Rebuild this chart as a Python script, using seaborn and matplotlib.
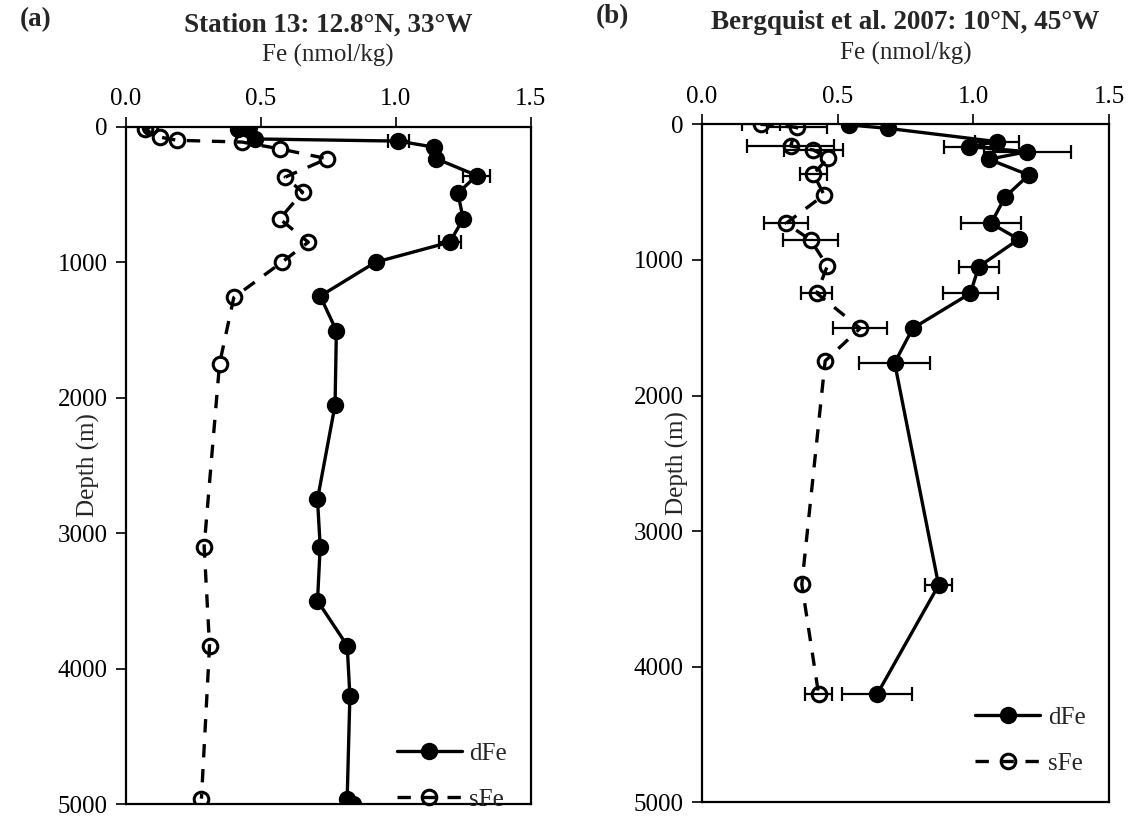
import numpy as np
import pandas as pd
import matplotlib
matplotlib.use("Agg")
import matplotlib.pyplot as plt
import seaborn as sns

# ---- Station 13 (12.8N, 33W) ----
a_dfe_depth = [0, 20, 90, 106, 150, 236, 360, 490, 680, 852, 1000, 1250, 1505,
               2055, 2750, 3100, 3500, 3830, 4200, 4960, 5000]
a_dfe = [0.458, 0.415, 0.48, 1.01, 1.14, 1.15, 1.30, 1.23, 1.25, 1.20, 0.925, 0.72,
         0.78, 0.775, 0.71, 0.72, 0.71, 0.82, 0.83, 0.82, 0.84]
a_dfe_err = [0, 0, 0, 0.04, 0, 0, 0.05, 0, 0, 0.04, 0, 0, 0, 0, 0, 0, 0, 0, 0, 0, 0]

a_sfe_depth = [5, 20, 76, 100, 113, 163, 236, 372, 483, 680, 852, 1000, 1260,
               1750, 3100, 3830, 4960]
a_sfe = [0.09, 0.07, 0.125, 0.19, 0.43, 0.57, 0.746, 0.59, 0.655, 0.57, 0.676,
         0.578, 0.40, 0.347, 0.29, 0.31, 0.28]

# ---- Bergquist et al. 2007 (10N, 45W) ----
b_dfe_depth = [5, 30, 128, 165, 202, 258, 374, 534, 730, 848, 1050, 1246, 1504,
               1758, 3398, 4204]
b_dfe = [0.542, 0.685, 1.087, 0.983, 1.198, 1.057, 1.204, 1.118, 1.065, 1.167,
         1.02, 0.989, 0.777, 0.71, 0.872, 0.645]
b_dfe_err = [0, 0, 0.08, 0.09, 0.16, 0, 0, 0, 0.11, 0, 0.074, 0.10, 0, 0.13, 0.05, 0.13]

b_sfe_depth = [0, 22, 160, 190, 250, 366, 521, 730, 853, 1045, 1246, 1504, 1745,
               3392, 4204]
b_sfe = [0.216, 0.349, 0.327, 0.411, 0.464, 0.411, 0.45, 0.31, 0.40, 0.462, 0.423,
         0.583, 0.454, 0.368, 0.43]
b_sfe_err = [0.07, 0.11, 0.16, 0.11, 0, 0.05, 0, 0.08, 0.10, 0, 0.057, 0.10, 0, 0, 0.05]

x_ticks = [0.0, 0.5, 1.0, 1.5]
y_ticks = [0, 1000, 2000, 3000, 4000, 5000]

panels = [
    ("(a)", "Station 13: 12.8°N, 33°W",
     (a_dfe_depth, a_dfe, a_dfe_err), (a_sfe_depth, a_sfe, [0] * len(a_sfe))),
    ("(b)", "Bergquist et al. 2007: 10°N, 45°W",
     (b_dfe_depth, b_dfe, b_dfe_err), (b_sfe_depth, b_sfe, b_sfe_err)),
]

sns.set_style("ticks")
plt.rcParams["font.family"] = ["Liberation Serif", "DejaVu Serif"]

fig = plt.figure(figsize=(11.34, 8.23), dpi=100)
axes_rects = [[0.111, 0.023, 0.357, 0.823], [0.619, 0.025, 0.359, 0.824]]
legend_anchor = [(0.985, -0.036), (0.985, 0.015)]
ylabel_x = [-0.064, -0.032]
tag_x = [-0.262, -0.262]

FS = 18
for i, (tag, title, dfe, sfe) in enumerate(panels):
    ax = fig.add_axes(axes_rects[i])
    d_depth, d_val, d_err = dfe
    s_depth, s_val, s_err = sfe
    dfe_df = pd.DataFrame({"Fe": d_val, "Depth": d_depth, "err": d_err})
    sfe_df = pd.DataFrame({"Fe": s_val, "Depth": s_depth, "err": s_err})

    # error bars first so markers sit on top
    for df in (dfe_df, sfe_df):
        sub = df[df["err"] > 0]
        ax.errorbar(sub["Fe"], sub["Depth"], xerr=sub["err"], fmt="none",
                    ecolor="black", elinewidth=1.6, capsize=5, capthick=1.6, zorder=2)

    sns.lineplot(data=dfe_df, x="Fe", y="Depth", sort=False, estimator=None, ax=ax,
                 color="black", lw=2.4, marker="o", markersize=11.5,
                 markerfacecolor="black", markeredgecolor="black",
                 markeredgewidth=1.0, label="dFe", zorder=4)
    sns.lineplot(data=sfe_df, x="Fe", y="Depth", sort=False, estimator=None, ax=ax,
                 color="black", lw=2.4, linestyle=(0, (4, 3.5)), marker="o",
                 markersize=10.5, markerfacecolor="none", markeredgecolor="black",
                 markeredgewidth=2.2, label="sFe", zorder=3)

    ax.set_xlim(0, 1.5)
    ax.set_ylim(5000, 0)
    ax.set_xticks(x_ticks)
    ax.set_xticklabels([f"{t:.1f}" for t in x_ticks])
    ax.set_yticks(y_ticks)
    ax.xaxis.tick_top()
    ax.xaxis.set_label_position("top")
    ax.tick_params(axis="both", direction="out", length=7, width=1.2,
                   labelsize=FS, colors="black")
    ax.tick_params(axis="x", pad=5)
    ax.tick_params(axis="y", pad=6)
    ax.set_xlabel("Fe (nmol/kg)", fontsize=FS, labelpad=19)
    ax.set_ylabel("Depth (m)", fontsize=FS)
    ax.yaxis.set_label_coords(ylabel_x[i], 0.5)
    for sp in ax.spines.values():
        sp.set_visible(True)
        sp.set_linewidth(1.6)
        sp.set_color("black")

    ax.set_title(title, fontsize=FS + 1.5, fontweight="bold", y=1.14, pad=0)
    ax.text(tag_x[i], 1.14, tag, transform=ax.transAxes,
            fontsize=FS + 1.5, fontweight="bold", va="bottom", ha="left")

    ax.legend(loc="lower right", bbox_to_anchor=legend_anchor[i], frameon=False,
              fontsize=FS, handlelength=2.6, handletextpad=0.3,
              labelspacing=0.95, borderaxespad=0.3)

fig.savefig("out.png", dpi=100)
